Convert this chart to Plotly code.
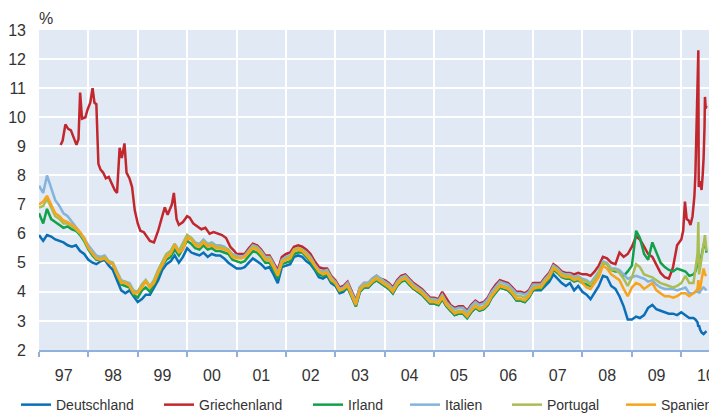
import pandas as pd
import plotly.graph_objects as go

# ---------------- data (monthly, Jan 1997 - Apr 2010, then finer points in 2010) ----------------
monthly_dates = list(pd.date_range("1997-01-01", "2010-04-01", freq="MS"))
extra_dates_2010 = ["2010-04-15", "2010-05-01", "2010-05-07", "2010-05-12", "2010-05-20",
                    "2010-06-01", "2010-06-15", "2010-06-25", "2010-07-06"]
dates = monthly_dates + list(pd.to_datetime(extra_dates_2010))

deutschland = [
    5.95, 5.75, 5.95, 5.9, 5.8, 5.75, 5.7, 5.6, 5.55, 5.6, 5.4, 5.3,
    5.1, 5.0, 4.95, 5.05, 5.1, 4.9, 4.75, 4.4, 4.05, 3.95, 4.05, 3.85,
    3.65, 3.75, 3.9, 3.9, 4.15, 4.4, 4.75, 4.95, 5.05, 5.25, 5.0, 5.2,
    5.5, 5.35, 5.3, 5.25, 5.35, 5.2, 5.3, 5.25, 5.25, 5.15, 5.0, 4.9,
    4.8, 4.8, 4.85, 5.0, 5.15, 5.05, 4.95, 4.8, 4.85, 4.6, 4.3, 4.85,
    4.9, 4.95, 5.2, 5.25, 5.2, 5.05, 4.95, 4.75, 4.5, 4.45, 4.55, 4.3,
    4.2, 3.95, 4.0, 4.15, 3.85, 3.5, 4.0, 4.15, 4.15, 4.3, 4.4, 4.3,
    4.2, 4.1, 3.95, 4.2, 4.35, 4.4, 4.25, 4.1, 4.0, 3.9, 3.75, 3.6,
    3.6, 3.55, 3.75, 3.5, 3.35, 3.2, 3.25, 3.25, 3.1, 3.3, 3.45, 3.35,
    3.4, 3.55, 3.8, 4.0, 4.15, 4.1, 4.05, 3.9, 3.7, 3.7, 3.65, 3.8,
    4.05, 4.05, 4.05, 4.2, 4.35, 4.6, 4.45, 4.3, 4.2, 4.3, 4.05, 4.2,
    4.0, 3.9, 3.75, 4.0, 4.2, 4.55, 4.5, 4.2, 4.1, 3.85, 3.5, 3.05,
    3.05, 3.15, 3.1, 3.2, 3.45, 3.55, 3.4, 3.35, 3.3, 3.25, 3.25, 3.2,
    3.3, 3.2, 3.1, 3.1,
    3.05, 2.95, 2.8, 2.85, 2.7, 2.6, 2.55, 2.6, 2.65,
]

spanien = [
    7.0, 7.1, 7.3, 7.0, 6.7, 6.6, 6.45, 6.4, 6.3, 6.2, 6.05, 5.85,
    5.5, 5.3, 5.15, 5.1, 5.15, 5.0, 4.95, 4.6, 4.3, 4.3, 4.2, 3.95,
    3.95, 4.15, 4.35, 4.15, 4.3, 4.65, 4.95, 5.2, 5.3, 5.6, 5.35, 5.45,
    5.85, 5.8, 5.6, 5.55, 5.7, 5.55, 5.6, 5.5, 5.5, 5.45, 5.4, 5.2,
    5.15, 5.15, 5.2, 5.35, 5.5, 5.45, 5.3, 5.1, 5.1, 4.85, 4.55, 5.0,
    5.1, 5.15, 5.4, 5.45, 5.4, 5.25, 5.1, 4.9, 4.7, 4.6, 4.65, 4.4,
    4.3, 4.05, 4.1, 4.2, 3.9, 3.55, 4.05, 4.2, 4.2, 4.35, 4.45, 4.35,
    4.25, 4.15, 4.0, 4.25, 4.4, 4.45, 4.3, 4.15, 4.05, 3.95, 3.8, 3.65,
    3.65, 3.6, 3.8, 3.55, 3.4, 3.25, 3.3, 3.3, 3.15, 3.35, 3.5, 3.4,
    3.45, 3.6, 3.85, 4.05, 4.2, 4.15, 4.1, 3.95, 3.75, 3.75, 3.7, 3.85,
    4.1, 4.15, 4.15, 4.35, 4.5, 4.8, 4.7, 4.55, 4.5, 4.5, 4.4, 4.45,
    4.3, 4.15, 4.1, 4.3, 4.5, 4.9, 4.8, 4.6, 4.5, 4.4, 4.1, 3.85,
    4.15, 4.3, 4.25, 4.1, 4.2, 4.3, 4.05, 3.95, 3.85, 3.85, 3.8, 3.85,
    3.95, 3.95, 3.85, 3.95,
    4.0, 4.1, 4.4, 4.05, 4.1, 4.45, 4.8, 4.6, 4.55,
]

italien = [
    7.65, 7.4, 8.0, 7.6, 7.15, 6.95, 6.7, 6.6, 6.4, 6.25, 6.05, 5.85,
    5.6, 5.4, 5.25, 5.2, 5.25, 5.05, 5.0, 4.7, 4.4, 4.35, 4.3, 4.05,
    4.0, 4.25, 4.4, 4.15, 4.4, 4.75, 5.05, 5.3, 5.4, 5.65, 5.4, 5.65,
    5.95, 5.85, 5.7, 5.65, 5.8, 5.65, 5.7, 5.6, 5.6, 5.55, 5.45, 5.3,
    5.25, 5.2, 5.25, 5.45, 5.6, 5.55, 5.4, 5.2, 5.2, 4.95, 4.65, 5.1,
    5.2, 5.25, 5.45, 5.5, 5.45, 5.35, 5.2, 4.95, 4.75, 4.7, 4.75, 4.5,
    4.35, 4.1, 4.15, 4.3, 3.95, 3.65, 4.15, 4.3, 4.3, 4.45, 4.55, 4.45,
    4.35, 4.25, 4.1, 4.35, 4.5, 4.55, 4.4, 4.25, 4.15, 4.05, 3.9, 3.75,
    3.75, 3.7, 3.9, 3.65, 3.5, 3.4, 3.45, 3.45, 3.3, 3.5, 3.65, 3.55,
    3.6, 3.75, 4.0, 4.2, 4.35, 4.3, 4.25, 4.1, 3.95, 3.95, 3.9, 4.0,
    4.25, 4.25, 4.25, 4.45, 4.6, 4.9, 4.8, 4.65, 4.6, 4.6, 4.5, 4.55,
    4.45, 4.4, 4.3, 4.5, 4.7, 5.05, 5.0, 4.8, 4.8, 4.75, 4.6, 4.45,
    4.5, 4.55, 4.5, 4.45, 4.35, 4.4, 4.25, 4.15, 4.1, 4.1, 4.1, 4.05,
    4.1, 4.15, 3.95, 3.95,
    4.0, 4.0, 4.2, 3.95, 4.0, 4.1, 4.15, 4.1, 4.05,
]

irland = [
    6.7, 6.35, 6.85, 6.5, 6.4, 6.3, 6.2, 6.25, 6.15, 6.1, 5.95, 5.75,
    5.45, 5.25, 5.1, 5.1, 5.15, 5.0, 4.95, 4.55, 4.25, 4.2, 4.15, 3.9,
    3.8, 4.05, 4.15, 4.0, 4.25, 4.55, 4.9, 5.1, 5.2, 5.45, 5.25, 5.5,
    5.75, 5.65, 5.5, 5.45, 5.6, 5.45, 5.5, 5.4, 5.4, 5.35, 5.3, 5.1,
    5.05, 5.0, 5.05, 5.25, 5.4, 5.35, 5.2, 5.0, 5.0, 4.75, 4.45, 4.95,
    5.0, 5.05, 5.3, 5.35, 5.35, 5.2, 5.05, 4.8, 4.6, 4.55, 4.6, 4.35,
    4.25, 4.0, 4.05, 4.15, 3.85, 3.5, 4.0, 4.15, 4.15, 4.3, 4.4, 4.3,
    4.2, 4.1, 3.95, 4.2, 4.35, 4.4, 4.25, 4.1, 4.0, 3.9, 3.75, 3.6,
    3.6, 3.55, 3.75, 3.5, 3.35, 3.2, 3.25, 3.25, 3.1, 3.3, 3.45, 3.35,
    3.4, 3.55, 3.8, 4.0, 4.15, 4.1, 4.05, 3.9, 3.7, 3.7, 3.65, 3.8,
    4.05, 4.1, 4.1, 4.3, 4.45, 4.75, 4.65, 4.5, 4.45, 4.45, 4.35, 4.4,
    4.3, 4.25, 4.2, 4.45, 4.6, 5.0, 4.95, 4.75, 4.7, 4.7, 4.55, 4.7,
    4.9, 6.1, 5.85, 5.3, 5.1, 5.7, 5.35, 5.0, 4.85, 4.75, 4.7, 4.8,
    4.75, 4.7, 4.55, 4.6,
    4.7, 4.95, 5.4, 4.85, 5.0, 5.3, 5.6, 5.75, 5.35,
]

portugal = [
    6.9, 6.95, 7.2, 6.9, 6.6, 6.5, 6.35, 6.35, 6.25, 6.15, 6.0, 5.8,
    5.5, 5.3, 5.15, 5.15, 5.2, 5.05, 5.0, 4.65, 4.35, 4.35, 4.25, 4.0,
    4.0, 4.25, 4.4, 4.2, 4.4, 4.75, 5.05, 5.3, 5.4, 5.65, 5.4, 5.65,
    5.95, 5.85, 5.65, 5.6, 5.75, 5.6, 5.65, 5.55, 5.55, 5.5, 5.45, 5.25,
    5.2, 5.15, 5.2, 5.4, 5.55, 5.5, 5.35, 5.15, 5.15, 4.9, 4.6, 5.05,
    5.15, 5.2, 5.45, 5.5, 5.45, 5.3, 5.15, 4.9, 4.7, 4.65, 4.7, 4.45,
    4.3, 4.05, 4.1, 4.25, 3.9, 3.6, 4.1, 4.25, 4.25, 4.4, 4.5, 4.4,
    4.3, 4.2, 4.05, 4.3, 4.45, 4.5, 4.35, 4.2, 4.1, 4.0, 3.85, 3.7,
    3.7, 3.65, 3.85, 3.6, 3.45, 3.3, 3.35, 3.35, 3.2, 3.4, 3.55, 3.45,
    3.5, 3.65, 3.9, 4.1, 4.25, 4.2, 4.15, 4.0, 3.85, 3.85, 3.8, 3.9,
    4.15, 4.2, 4.2, 4.4, 4.55, 4.85, 4.75, 4.6, 4.55, 4.55, 4.45, 4.5,
    4.4, 4.35, 4.25, 4.45, 4.65, 5.0, 4.95, 4.75, 4.75, 4.65, 4.45, 4.2,
    4.5, 4.95, 4.85, 4.6, 4.55, 4.5, 4.4, 4.3, 4.25, 4.2, 4.15, 4.2,
    4.3, 4.55, 4.3, 4.3,
    4.7, 5.3, 6.4, 4.6, 4.8, 5.2, 5.6, 5.95, 5.4,
]

# Griechenland: own date list (series starts mid-1997, finer detail where it moves fast)
gr_dates_early = [
    "1997-06-10", "1997-06-25", "1997-07-15", "1997-08-05", "1997-08-25", "1997-09-15",
    "1997-10-05", "1997-10-20", "1997-11-01", "1997-11-15", "1997-12-10", "1997-12-25",
    "1998-01-15", "1998-02-01", "1998-02-15", "1998-03-01", "1998-03-16", "1998-04-01",
    "1998-04-20", "1998-05-10", "1998-06-01", "1998-06-20", "1998-07-15", "1998-08-01",
    "1998-08-20", "1998-09-05", "1998-09-25", "1998-10-10", "1998-11-01", "1998-11-20",
    "1998-12-10", "1999-01-01", "1999-01-20", "1999-02-15", "1999-03-10", "1999-04-01",
    "1999-05-01", "1999-06-01", "1999-07-01", "1999-07-20", "1999-08-10", "1999-09-10",
    "1999-09-25", "1999-10-15", "1999-11-01", "1999-12-01", "2000-01-01", "2000-01-20",
    "2000-02-15", "2000-03-15", "2000-04-15", "2000-05-15", "2000-06-15", "2000-07-15",
    "2000-08-15", "2000-09-15", "2000-10-15", "2000-11-15", "2000-12-15",
]
gr_values_early = [
    9.05, 9.2, 9.75, 9.6, 9.55, 9.3,
    9.05, 9.25, 10.85, 9.95, 10.0, 10.25,
    10.5, 11.0, 10.5, 10.45, 8.4, 8.2,
    8.1, 7.9, 7.95, 7.75, 7.5, 7.4,
    8.95, 8.6, 9.1, 8.1, 7.9, 7.6,
    6.8, 6.35, 6.1, 6.05, 5.9, 5.75,
    5.7, 6.1, 6.6, 6.9, 6.65, 7.0,
    7.4, 6.5, 6.3, 6.4, 6.6, 6.55,
    6.35, 6.25, 6.15, 6.2, 6.0, 6.05,
    6.0, 5.95, 5.85, 5.55, 5.4,
]
gr_values_monthly = [  # Jan 2001 - Dec 2009
    5.3, 5.3, 5.3, 5.5, 5.65, 5.6, 5.45, 5.25, 5.25, 5.0, 4.75, 5.2,
    5.3, 5.35, 5.55, 5.6, 5.55, 5.45, 5.3, 5.05, 4.85, 4.8, 4.8, 4.55,
    4.4, 4.15, 4.2, 4.35, 4.0, 3.7, 4.15, 4.3, 4.3, 4.45, 4.55, 4.45,
    4.4, 4.3, 4.15, 4.4, 4.55, 4.6, 4.45, 4.3, 4.2, 4.1, 3.95, 3.8,
    3.8, 3.75, 4.0, 3.75, 3.55, 3.45, 3.5, 3.5, 3.35, 3.55, 3.7, 3.6,
    3.65, 3.8, 4.05, 4.25, 4.4, 4.35, 4.3, 4.15, 4.0, 4.0, 3.95, 4.05,
    4.3, 4.3, 4.3, 4.5, 4.65, 4.95, 4.85, 4.7, 4.65, 4.65, 4.6, 4.65,
    4.6, 4.6, 4.55, 4.7, 4.9, 5.2, 5.15, 5.0, 4.95, 5.35, 5.2, 5.3,
    5.55, 5.9, 5.8, 5.55, 5.3, 5.2, 4.9, 4.65, 4.5, 4.45, 4.85, 5.6,
]
gr_dates_2010 = [
    "2010-01-01", "2010-01-15", "2010-01-28", "2010-02-10", "2010-02-25", "2010-03-10",
    "2010-03-25", "2010-04-08", "2010-04-15", "2010-04-22", "2010-04-27", "2010-05-07",
    "2010-05-10", "2010-05-20", "2010-05-31", "2010-06-08", "2010-06-15", "2010-06-22",
    "2010-06-25", "2010-07-01", "2010-07-06",
]
gr_values_2010 = [
    5.8, 6.1, 7.1, 6.5, 6.45, 6.3,
    6.6, 7.3, 8.0, 9.0, 10.3, 12.3,
    7.6, 7.8, 7.5, 8.0, 8.6, 9.7,
    10.7, 10.3, 10.4,
]
gr_dates = (list(pd.to_datetime(gr_dates_early))
            + list(pd.date_range("2001-01-01", "2009-12-01", freq="MS"))
            + list(pd.to_datetime(gr_dates_2010)))
griechenland = gr_values_early + gr_values_monthly + gr_values_2010

series = [
    ("Deutschland", dates, deutschland, "#0a6fb7"),
    ("Griechenland", gr_dates, griechenland, "#c1272d"),
    ("Irland", dates, irland, "#13a04b"),
    ("Italien", dates, italien, "#84b3dd"),
    ("Portugal", dates, portugal, "#aabd52"),
    ("Spanien", dates, spanien, "#f8a31c"),
]

# The page body adds an 8 px margin, so the figure is sized 8 px smaller
PAGE_OFFSET = 8
FIG_W, FIG_H = 717 - PAGE_OFFSET, 414 - PAGE_OFFSET
PLOT_LEFT, PLOT_TOP, PLOT_W, PLOT_H = 31, 22, 678, 320

# legend text start positions (page pixels) -> one legend per entry
legend_text_px = [55, 198, 347, 444, 546, 660]

fig = go.Figure()
for i, (name, x, y, color) in enumerate(series):
    lg = "legend" if i == 0 else f"legend{i + 1}"
    fig.add_trace(go.Scatter(x=x, y=y, mode="lines", name=name,
                             line=dict(color=color, width=2.5),
                             legend=lg))

font_family = "Liberation Sans, Arial, sans-serif"
layout_legends = {}
for i, px in enumerate(legend_text_px):
    key = "legend" if i == 0 else f"legend{i + 1}"
    legend_left = px - PAGE_OFFSET - 39
    layout_legends[key] = dict(
        x=(legend_left - PLOT_LEFT) / PLOT_W, xanchor="left",
        y=-0.172, yanchor="middle",
        orientation="h", bgcolor="rgba(0,0,0,0)",
        font=dict(family=font_family, size=14, color="#333333"),
        borderwidth=0,
    )

fig.update_layout(
    width=FIG_W, height=FIG_H,
    margin=dict(l=PLOT_LEFT, r=FIG_W - PLOT_LEFT - PLOT_W, t=PLOT_TOP,
                b=FIG_H - PLOT_TOP - PLOT_H, autoexpand=False),
    paper_bgcolor="white",
    plot_bgcolor="#e1e9f4",
    font=dict(family=font_family, size=16, color="#333333"),
    showlegend=True,
    **layout_legends,
)

fig.update_xaxes(
    type="date",
    range=["1997-01-01", "2010-09-22"],
    dtick="M12", tick0="1997-01-01",
    tickformat="%y", ticklabelmode="period",
    showgrid=True, gridcolor="white", gridwidth=2,
    showline=True, linecolor="#8fb1da", linewidth=1.5,
    ticks="outside", ticklen=5, tickcolor="#8fb1da", tickwidth=1.5,
    ticklabelstandoff=5, automargin=False,
    tickfont=dict(size=16, color="#333333"),
    zeroline=False,
)
fig.update_yaxes(
    range=[2, 13], dtick=1, tick0=2,
    showgrid=True, gridcolor="white", gridwidth=2,
    showline=False, ticks="", zeroline=False,
    ticklabelstandoff=12, automargin=False,
    tickfont=dict(size=16, color="#333333"),
)

fig.add_annotation(text="%", xref="paper", yref="paper", x=0, y=1,
                   xanchor="left", yanchor="bottom", yshift=1, xshift=-2,
                   showarrow=False, font=dict(size=16, color="#333333"))

fig.write_html("out.html")
